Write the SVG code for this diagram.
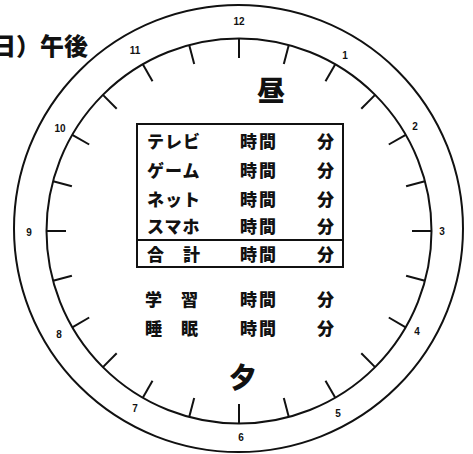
<svg xmlns="http://www.w3.org/2000/svg" width="473" height="454" viewBox="0 0 473 454">
<style>
.ring{fill:none;stroke:#111;stroke-width:2}
.tick{stroke:#111;stroke-width:2;stroke-linecap:butt}
.num{font-family:"Liberation Sans",Arial,sans-serif;font-weight:bold;font-size:10px;fill:#111;text-anchor:middle;dominant-baseline:central}
.jp{font-family:"Noto Sans CJK JP","Noto Sans CJK SC",sans-serif;font-weight:900;fill:#111}
.row{font-size:17px;letter-spacing:1px}
.big{font-size:28px;text-anchor:middle}
.box{fill:none;stroke:#111;stroke-width:2}
</style>
<rect width="473" height="454" fill="#ffffff"/>
<g id="title"><text class="jp" x="-8" y="55" font-size="24">日）午後</text></g>
<g id="clock">
<ellipse class="ring" cx="238.5" cy="228.5" rx="224.5" ry="223.5"/>
<circle class="ring" cx="239" cy="231" r="192.5"/>
<g id="ticks">
<line class="tick" x1="239" y1="38.5" x2="239" y2="58"/>
<line class="tick" x1="288.8" y1="45.1" x2="283.8" y2="63.9"/>
<line class="tick" x1="335.3" y1="64.3" x2="325.5" y2="81.2"/>
<line class="tick" x1="375.1" y1="94.9" x2="361.3" y2="108.7"/>
<line class="tick" x1="405.7" y1="134.8" x2="388.8" y2="144.5"/>
<line class="tick" x1="424.9" y1="181.2" x2="406.1" y2="186.2"/>
<line class="tick" x1="431.5" y1="231" x2="412" y2="231"/>
<line class="tick" x1="424.9" y1="280.8" x2="406.1" y2="275.8"/>
<line class="tick" x1="405.7" y1="327.3" x2="388.8" y2="317.5"/>
<line class="tick" x1="375.1" y1="367.1" x2="361.3" y2="353.3"/>
<line class="tick" x1="335.3" y1="397.7" x2="325.5" y2="380.8"/>
<line class="tick" x1="288.8" y1="416.9" x2="283.8" y2="398.1"/>
<line class="tick" x1="239" y1="423.5" x2="239" y2="404"/>
<line class="tick" x1="189.2" y1="416.9" x2="194.2" y2="398.1"/>
<line class="tick" x1="142.8" y1="397.7" x2="152.5" y2="380.8"/>
<line class="tick" x1="102.9" y1="367.1" x2="116.7" y2="353.3"/>
<line class="tick" x1="72.3" y1="327.3" x2="89.2" y2="317.5"/>
<line class="tick" x1="53.1" y1="280.8" x2="71.9" y2="275.8"/>
<line class="tick" x1="46.5" y1="231" x2="66" y2="231"/>
<line class="tick" x1="53.1" y1="181.2" x2="71.9" y2="186.2"/>
<line class="tick" x1="72.3" y1="134.8" x2="89.2" y2="144.5"/>
<line class="tick" x1="102.9" y1="94.9" x2="116.7" y2="108.7"/>
<line class="tick" x1="142.8" y1="64.3" x2="152.5" y2="81.2"/>
<line class="tick" x1="189.2" y1="45.1" x2="194.2" y2="63.9"/>
</g>
<g id="numbers">
<text class="num" x="239" y="21">12</text>
<text class="num" x="345" y="55">1</text>
<text class="num" x="415" y="126">2</text>
<text class="num" x="442" y="231">3</text>
<text class="num" x="417" y="331">4</text>
<text class="num" x="338" y="413">5</text>
<text class="num" x="241" y="437">6</text>
<text class="num" x="135" y="408">7</text>
<text class="num" x="59" y="334">8</text>
<text class="num" x="29" y="232">9</text>
<text class="num" x="60" y="128">10</text>
<text class="num" x="135" y="50">11</text>
</g>
</g>
<g id="noon"><text class="jp big" x="271" y="101">昼</text></g>
<g id="evening"><text class="jp big" x="243" y="388">夕</text></g>
<g id="table">
<rect class="box" x="137" y="124" width="206" height="143"/>
<line class="box" x1="137" y1="240" x2="343" y2="240"/>
<g class="jp row">
<text x="147" y="148">テレビ</text><text x="240" y="148" letter-spacing="2">時間</text><text x="317" y="148">分</text>
<text x="147" y="177">ゲーム</text><text x="240" y="177" letter-spacing="2">時間</text><text x="317" y="177">分</text>
<text x="147" y="206">ネット</text><text x="240" y="206" letter-spacing="2">時間</text><text x="317" y="206">分</text>
<text x="147" y="233">スマホ</text><text x="240" y="233" letter-spacing="2">時間</text><text x="317" y="233">分</text>
<text x="147" y="261">合　計</text><text x="240" y="261" letter-spacing="2">時間</text><text x="317" y="261">分</text>
</g>
</g>
<g id="extra" class="jp row">
<text x="145" y="306">学　習</text><text x="240" y="306" letter-spacing="2">時間</text><text x="317" y="306">分</text>
<text x="145" y="335">睡　眠</text><text x="240" y="335" letter-spacing="2">時間</text><text x="317" y="335">分</text>
</g>
</svg>
